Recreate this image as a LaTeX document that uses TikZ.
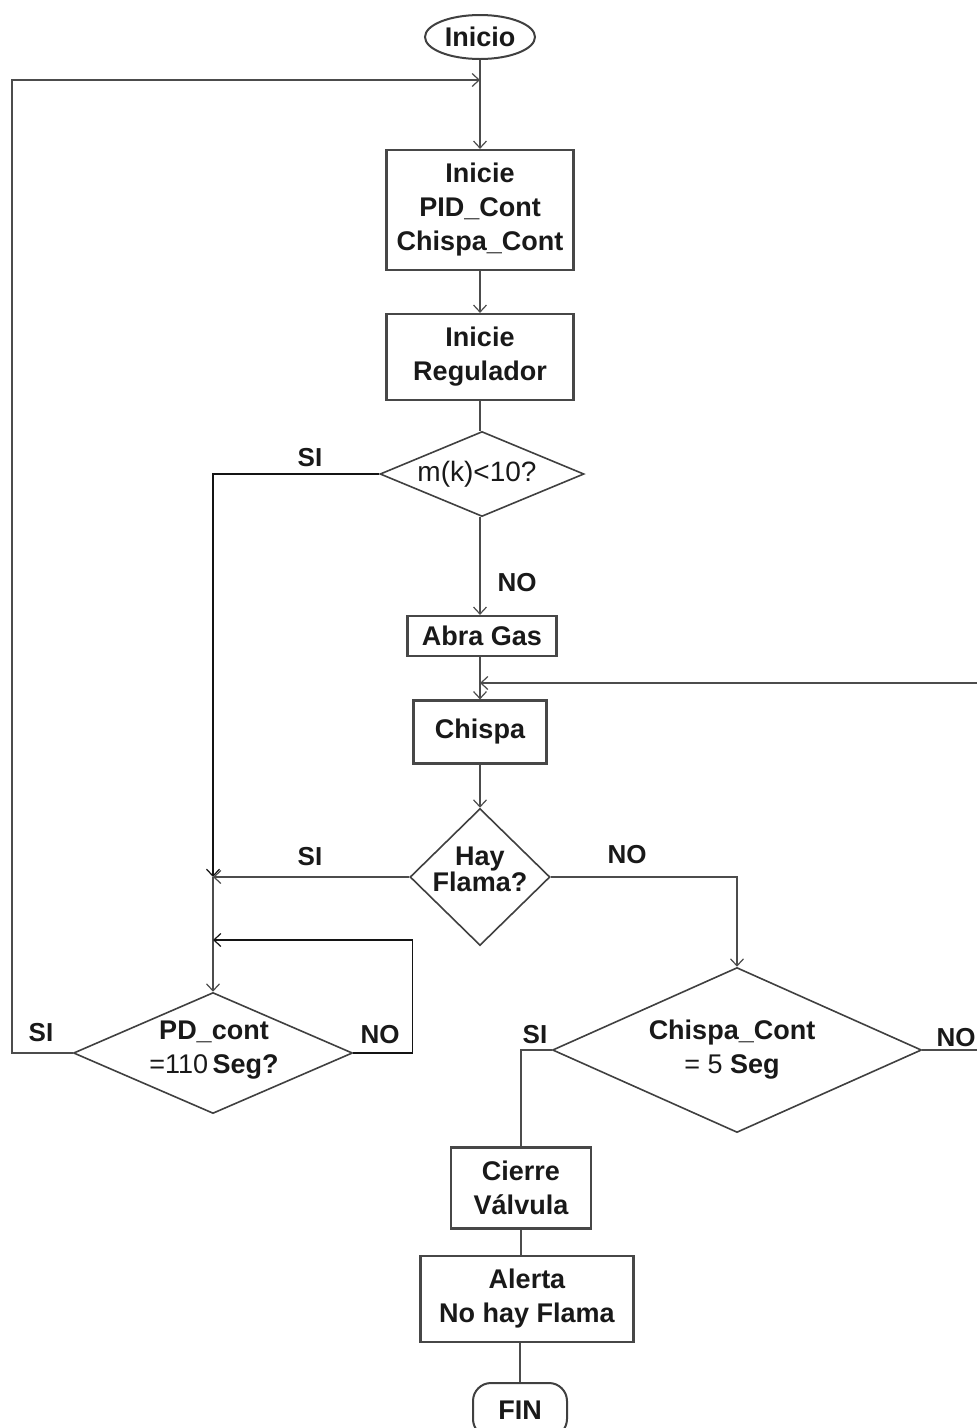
\documentclass[tikz,border=0pt]{standalone}
\usepackage{fontspec}
\setmainfont{Liberation Sans}
\usetikzlibrary{shapes.geometric,arrows.meta}
\begin{document}
\begin{tikzpicture}[x=1pt,y=-1pt,
  every node/.style={font=\fontsize{27}{34}\selectfont\bfseries, text=black!90},
  box/.style={rectangle, draw=black!72, line width=2.2pt, align=center, inner sep=0pt},
  dec/.style={diamond, draw=black!75, line width=1.6pt, inner sep=0pt, aspect=1},
  dtext/.style={align=center, inner sep=0pt},
  term/.style={ellipse, draw=black!75, line width=2pt, inner sep=0pt},
  flow/.style={draw=black!70, line width=2.2pt},
  thinflow/.style={draw=black!92, line width=1.3pt},
  arr/.style={-{Straight Barb[length=7pt,width=13pt,line width=1.2pt]}},
  lbl/.style={font=\fontsize{26}{30}\selectfont\bfseries, inner sep=0pt}
]
\clip (0,0) rectangle (977,1428);
\fill[white] (0,0) rectangle (977,1428);

% main column
\node[term, minimum width=110, minimum height=44] (inicio) at (480,37) {Inicio};
\node[box, minimum width=187, minimum height=120] (b1) at (480,210) {Inicie\\PID\_Cont\\Chispa\_Cont};
\node[box, minimum width=187, minimum height=86] (b2) at (480,357) {Inicie\\Regulador};
\node[dec, minimum width=204, minimum height=85] (d1) at (482,474) {};
\node[dtext, font=\fontsize{28}{34}\selectfont\mdseries] (d1t) at (477,474) {m(k)<10?};
\node[box, minimum width=149, minimum height=40] (ag) at (482,636) {Abra Gas};
\node[box, minimum width=133, minimum height=63] (ch) at (480,732) {Chispa};
\node[dec, minimum width=140, minimum height=137] (hf) at (480,877) {};
\node[dtext, font=\fontsize{27}{23}\selectfont\bfseries] (hft) at (480,869) {Hay\\Flama?};

% left loop decision
\node[dec, minimum width=279, minimum height=121] (pd) at (213,1053) {};
\node[dtext] (pdt) at (214,1050) {PD\_cont\\{\mdseries =110}\,Seg?};

% right branch
\node[dec, minimum width=369, minimum height=165] (cc) at (737,1050) {};
\node[dtext] (cct) at (732,1050) {Chispa\_Cont\\{\mdseries = 5} Seg};
\node[box, minimum width=140, minimum height=81] (cv) at (521,1188) {Cierre\\Válvula};
\node[box, minimum width=213, minimum height=86] (al) at (527,1299) {Alerta\\No hay Flama};
\node[rectangle, rounded corners=18pt, draw=black!75, line width=2pt,
      minimum width=94, minimum height=54] (fin) at (520,1410) {FIN};

% junction points
\coordinate (j0) at (480,80);
\coordinate (j1) at (pd.north |- hf.west);
\coordinate (j2) at (213,940);
\coordinate (j3) at (480,683);
\coordinate (rt1) at (980,683);
\coordinate (rt2) at (980,1050);

% connectors of the main column
\draw[flow,arr] (inicio) -- (b1);
\draw[flow,arr] (b1) -- (b2);
\draw[flow] (b2.south) -- (b2.south |- d1.north);
\draw[flow,arr] (d1.south -| b2.south) -- (ag.north -| b2.south);
\draw[flow,arr] (ag.south -| b2.south) -- (ch.north -| b2.south);
\draw[flow,arr] (rt1) -- (j3);
\draw[flow,arr] (ch) -- (hf);

% SI branches to the counter check
\draw[thinflow,arr] (d1.west) -| (j1);
\draw[flow,arr] (hf.west) -- (j1);
\draw[flow,arr] (j1) -- (pd.north);
\draw[thinflow,arr] (pd.east) -- ++(59,0) |- (j2);
\draw[flow,arr] (pd.west) -- ++(-61,0) |- (j0);

% NO branch to the spark counter
\draw[flow,arr] (hf.east) -| (cc.north);
\draw[flow] (cc.east) -- (rt2);
\draw[flow] (cc.west) -| (cv.north);
\draw[flow] (cv.south) -- (cv.south |- al.north);
\draw[flow] (fin.north |- al.south) -- (fin.north);

% branch labels
\node[lbl] (l1) at (310,458) {SI};
\node[lbl] (l2) at (517,583) {NO};
\node[lbl] (l3) at (310,857) {SI};
\node[lbl] (l4) at (627,855) {NO};
\node[lbl] (l5) at (41,1033) {SI};
\node[lbl] (l6) at (380,1035) {NO};
\node[lbl] (l7) at (535,1035) {SI};
\node[lbl] (l8) at (956,1038) {NO};
\end{tikzpicture}
\end{document}
